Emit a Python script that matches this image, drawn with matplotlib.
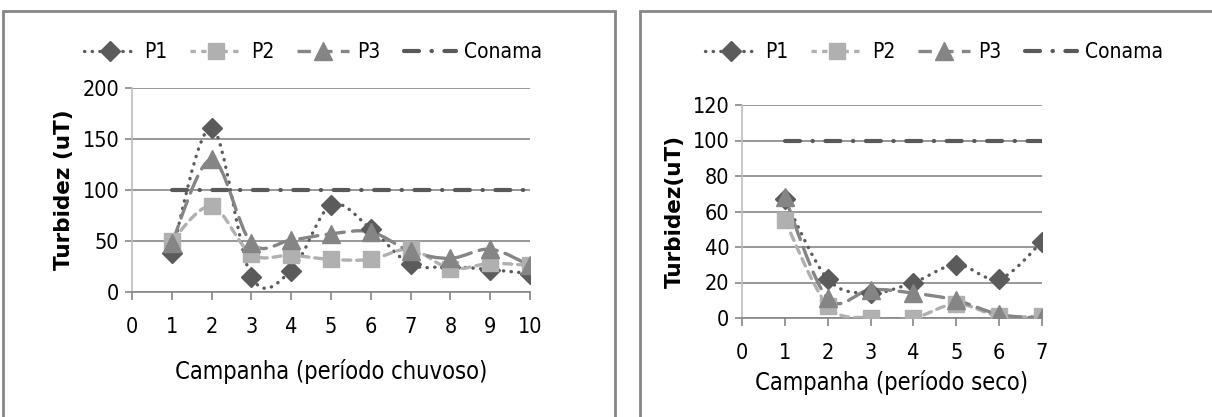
import numpy as np
import matplotlib.pyplot as plt
from matplotlib.path import Path
from matplotlib.patches import PathPatch, Rectangle
from matplotlib.lines import Line2D
from matplotlib.font_manager import FontProperties

# %% dados
camp_chuvoso = [1, 2, 3, 4, 5, 6, 7, 8, 9, 10]
p1_chuvoso = [38, 161, 15, 21, 85, 62, 27, 25, 22, 18]
p2_chuvoso = [50, 84, 37, 36, 32, 32, 42, 23, 28, 26]
p3_chuvoso = [48, 130, 48, 51, 57, 59, 40, 33, 42, 26]
conama_chuvoso = [100] * 10

camp_seco = [1, 2, 3, 4, 5, 6, 7]
p1_seco = [67, 22, 14, 20, 30, 22, 43]
p2_seco = [55, 7, 0, 0, 8, 1, 1]
p3_seco = [68, 11, 16, 14, 10, 2, 0]
conama_seco = [100] * 7

nomes = ["P1", "P2", "P3", "Conama"]

# estilos (tipo excel)
c_p1 = "#5b5b5b"
c_p2 = "#b0b0b0"
c_p3 = "#858585"
c_con = "#595959"
ls_p1 = (0, (0.1, 2.2))
ls_p2 = (0, (2.4, 1.8))
ls_p3 = (0, (5.5, 2.5))
ls_con = (0, (3.6, 3, 0.1, 3))
lw = 2.4


def fonte(size):
    return FontProperties(family="DejaVu Sans", stretch="condensed", size=size)


def curva(x, y):
    # linha suavizada como no excel (bezier cubica)
    n = len(x)
    verts = [(x[0], y[0])]
    codes = [Path.MOVETO]
    for i in range(n - 1):
        a = max(i - 1, 0)
        b = min(i + 2, n - 1)
        c1 = (x[i] + (x[i + 1] - x[a]) / 6, y[i] + (y[i + 1] - y[a]) / 6)
        c2 = (x[i + 1] - (x[b] - x[i]) / 6, y[i + 1] - (y[b] - y[i]) / 6)
        verts += [c1, c2, (x[i + 1], y[i + 1])]
        codes += [Path.CURVE4] * 3
    return Path(verts, codes)


def serie(ax, x, y, cor, ls, marker, ms):
    ax.add_patch(PathPatch(curva(x, y), fill=False, edgecolor=cor, lw=lw,
                           linestyle=ls, capstyle="round", zorder=3))
    ax.plot(x, y, linestyle="none", marker=marker, ms=ms, color=cor,
            mec=cor, zorder=4)


def grafico(ax, x, p1, p2, p3, con, ymax, ystep, xmax, xlabel, ylabel, lpad):
    ax.plot(x, con, color=c_con, lw=3, linestyle=ls_con, dash_capstyle="round",
            zorder=3)
    serie(ax, x, p1, c_p1, ls_p1, "D", 10)
    serie(ax, x, p2, c_p2, ls_p2, "s", 12)
    serie(ax, x, p3, c_p3, ls_p3, "^", 13)

    ax.set_xlim(0, xmax)
    ax.set_ylim(0, ymax)
    ax.set_xticks(range(0, xmax + 1))
    ax.set_yticks(np.arange(0, ymax + 1, ystep))
    ax.grid(axis="y", color="#868686", lw=1.2)
    ax.set_axisbelow(True)
    for s in ["top", "right"]:
        ax.spines[s].set_visible(False)
    ax.spines["left"].set_color("#bdbdbd")
    ax.spines["bottom"].set_color("#868686")
    ax.spines["left"].set_linewidth(1.2)
    ax.spines["bottom"].set_linewidth(1.2)
    ax.tick_params(axis="x", length=6, width=1.2, color="#868686", pad=12)
    ax.tick_params(axis="y", length=5, width=1.2, color="#868686", pad=4)
    for t in ax.get_xticklabels() + ax.get_yticklabels():
        t.set_fontproperties(fonte(15.5))
    ax.set_xlabel(xlabel, fontproperties=fonte(17), labelpad=lpad)
    ax.set_ylabel(ylabel, family="DejaVu Sans", fontsize=15.5,
                  fontweight="bold", labelpad=6)


fig = plt.figure(figsize=(12.12, 4.17), dpi=100)

# molduras
fig.add_artist(Rectangle((3 / 1212, -0.1), 612 / 1212, 1.1 - 11 / 417,
                         transform=fig.transFigure, fill=False,
                         edgecolor="#878787", lw=2))
fig.add_artist(Rectangle((640 / 1212, -0.1), 0.5, 1.1 - 11 / 417,
                         transform=fig.transFigure, fill=False,
                         edgecolor="#878787", lw=2))

ax1 = fig.add_axes([132 / 1212, 125 / 417, 398 / 1212, 204 / 417])
grafico(ax1, camp_chuvoso, p1_chuvoso, p2_chuvoso, p3_chuvoso, conama_chuvoso,
        200, 50, 10, "Campanha (período chuvoso)", "Turbidez (uT)", 16)

ax2 = fig.add_axes([742 / 1212, 99 / 417, 300 / 1212, 213 / 417])
grafico(ax2, camp_seco, p1_seco, p2_seco, p3_seco, conama_seco,
        120, 20, 7, "Campanha (período seco)", "Turbidez(uT)", 5)

handles = [
    Line2D([], [], color=c_p1, lw=lw, ls=ls_p1, marker="D", ms=10,
           dash_capstyle="round"),
    Line2D([], [], color=c_p2, lw=lw, ls=(0, (1.6, 1.6)), marker="s", ms=12),
    Line2D([], [], color=c_p3, lw=lw, ls=(0, (4, 2.5)), marker="^", ms=13),
    Line2D([], [], color=c_con, lw=3, ls=ls_con, dash_capstyle="round"),
]
for cx in [313 / 1212, 934 / 1212]:
    fig.legend(handles, nomes, loc="center", bbox_to_anchor=(cx, 1 - 52 / 417),
               ncol=4, frameon=False, handlelength=2.5, handletextpad=0.4,
               columnspacing=1.1, prop=fonte(15))

fig.savefig("out.png", dpi=100)
